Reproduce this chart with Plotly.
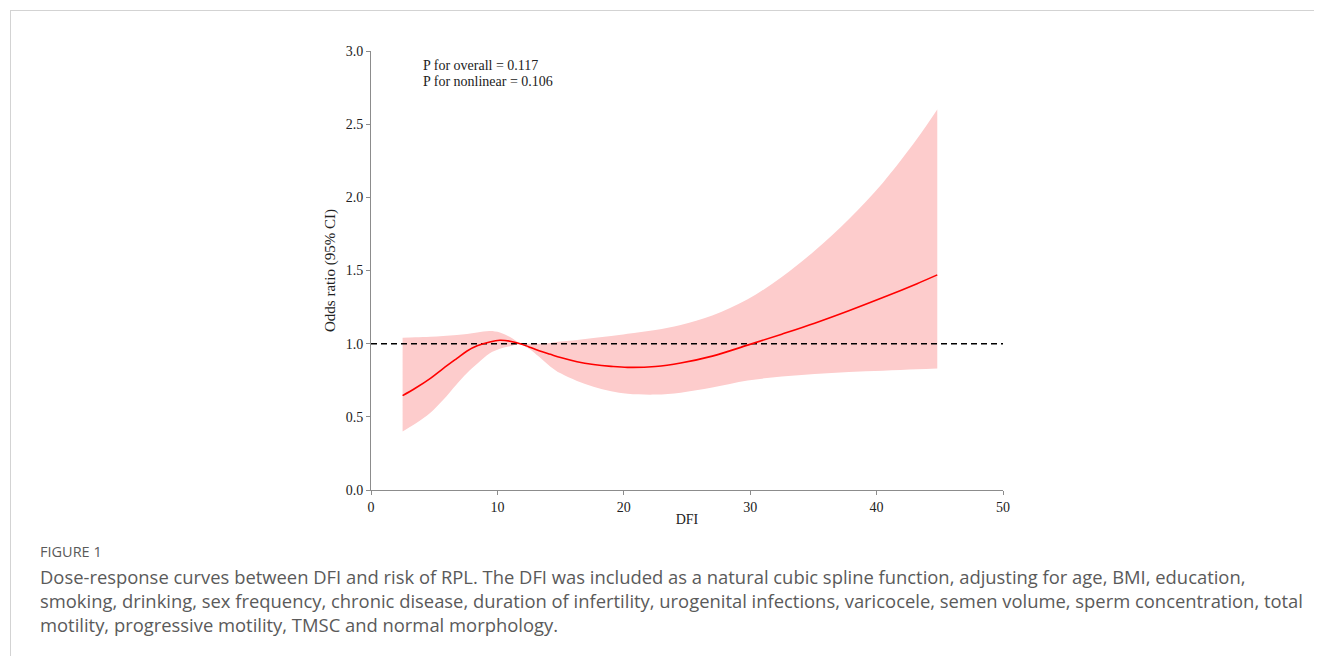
import plotly.graph_objects as go

# Data
dfi = [2.5, 3.5, 4.7, 5.7, 6.8, 7.6, 8.4, 9.4, 10.2, 11.0, 11.8, 12.5, 13.3, 14.2, 15.0,
       16.3, 17.6, 19.0, 20.3, 22.5, 24.5, 27.0, 29.8, 32.5, 35.1, 37.8, 40.5, 43.2, 44.8]
odds_ratio = [0.645, 0.695, 0.763, 0.83, 0.90, 0.95, 0.985, 1.012, 1.023, 1.017, 1.0, 0.978,
              0.952, 0.927, 0.905, 0.877, 0.858, 0.845, 0.838, 0.844, 0.868, 0.915, 0.99,
              1.065, 1.14, 1.225, 1.315, 1.41, 1.47]
ci_lower = [0.40, 0.452, 0.528, 0.615, 0.725, 0.80, 0.862, 0.934, 0.965, 0.982, 0.995, 0.965,
            0.91, 0.843, 0.797, 0.745, 0.706, 0.675, 0.658, 0.652, 0.665, 0.70, 0.748,
            0.775, 0.792, 0.806, 0.815, 0.825, 0.83]
ci_upper = [1.041, 1.044, 1.048, 1.053, 1.059, 1.066, 1.077, 1.087, 1.077, 1.045, 1.003, 1.0,
            1.0, 1.005, 1.014, 1.025, 1.038, 1.052, 1.068, 1.094, 1.128, 1.192, 1.303,
            1.456, 1.635, 1.85, 2.10, 2.40, 2.6]
x_ticks = [0, 10, 20, 30, 40, 50]
y_ticks = [0.0, 0.5, 1.0, 1.5, 2.0, 2.5, 3.0]
ref_line_x = [0, 50]
ref_line_y = [1.0, 1.0]
p_text = ["P for overall = 0.117", "P for nonlinear = 0.106"]
caption_title = "FIGURE 1"
caption_lines = [
    "Dose-response curves between DFI and risk of RPL. The DFI was included as a natural cubic spline function, adjusting for age, BMI, education,",
    "smoking, drinking, sex frequency, chronic disease, duration of infertility, urogenital infections, varicocele, semen volume, sperm concentration, total",
    "motility, progressive motility, TMSC and normal morphology.",
]

# page body has an 8px margin, so the figure canvas starts at (8, 8)
OFF = 8
W, H = 1322 - OFF, 656 - OFF
L, R, T, B = 371 - OFF, 1003 - OFF, 51 - OFF, 490 - OFF
pw, ph = R - L, B - T


def px(x):
    return (x - OFF - L) / pw


def py(y):
    return (B - (y - OFF)) / ph


fig = go.Figure()
fig.add_trace(go.Scatter(x=dfi, y=ci_lower, mode="lines",
                         line=dict(width=0, shape="spline", color="rgba(0,0,0,0)"),
                         hoverinfo="skip", showlegend=False))
fig.add_trace(go.Scatter(x=dfi, y=ci_upper, mode="lines",
                         line=dict(width=0, shape="spline", color="rgba(0,0,0,0)"),
                         fill="tonexty", fillcolor="rgb(253,204,204)", hoverinfo="skip", showlegend=False))
fig.add_trace(go.Scatter(x=ref_line_x, y=ref_line_y, mode="lines",
                         line=dict(color="black", width=1.5, dash="6px,4px"), showlegend=False))
fig.add_trace(go.Scatter(x=dfi, y=odds_ratio, mode="lines",
                         line=dict(color="#ff0000", width=1.6, shape="spline"), showlegend=False))

serif = "Liberation Serif, Times New Roman, serif"
axis_common = dict(showline=True, linecolor="#8c8c8c", linewidth=1, ticks="outside", ticklen=4,
                   tickcolor="#8c8c8c", showgrid=False, zeroline=False,
                   tickfont=dict(family=serif, size=14, color="#222"))
fig.update_xaxes(range=[0, 50], tickvals=x_ticks, ticktext=[str(v) for v in x_ticks],
                 title=dict(text="DFI", font=dict(family=serif, size=14, color="#222"), standoff=0),
                 **axis_common)
fig.update_yaxes(range=[0, 3], tickvals=y_ticks, ticktext=[f"{v:.1f}" for v in y_ticks],
                 title=dict(text="Odds ratio (95% CI)", font=dict(family=serif, size=15, color="#222"), standoff=6),
                 **axis_common)

sans = "Open Sans, Lato, sans-serif"
annotations = [
    dict(x=px(421), y=py(66), xref="paper", yref="paper", text=p_text[0], showarrow=False,
         xanchor="left", yanchor="middle", font=dict(family=serif, size=14, color="#222")),
    dict(x=px(421), y=py(81), xref="paper", yref="paper", text=p_text[1], showarrow=False,
         xanchor="left", yanchor="middle", font=dict(family=serif, size=14, color="#222")),
    dict(x=px(38), y=py(551), xref="paper", yref="paper", text=caption_title, showarrow=False,
         xanchor="left", yanchor="middle", font=dict(family=sans, size=14.5, color="#5a5a5a")),
]
for i, line in enumerate(caption_lines):
    annotations.append(dict(x=px(38), y=py(576 + 24 * i), xref="paper", yref="paper", text=line,
                            showarrow=False, xanchor="left", yanchor="middle",
                            font=dict(family=sans, size=18.4, color="#5a5a5a")))

shapes = [
    dict(type="line", xref="paper", yref="paper", x0=px(10), x1=px(1322), y0=py(10.5), y1=py(10.5),
         line=dict(color="#d3d3d3", width=1)),
    dict(type="line", xref="paper", yref="paper", x0=px(10.5), x1=px(10.5), y0=py(10.5), y1=py(656),
         line=dict(color="#d3d3d3", width=1)),
]

fig.update_layout(width=W, height=H, margin=dict(l=L, r=W - R, t=T, b=H - B),
                  plot_bgcolor="white", paper_bgcolor="white", showlegend=False,
                  annotations=annotations, shapes=shapes)
fig.write_html("out.html")
